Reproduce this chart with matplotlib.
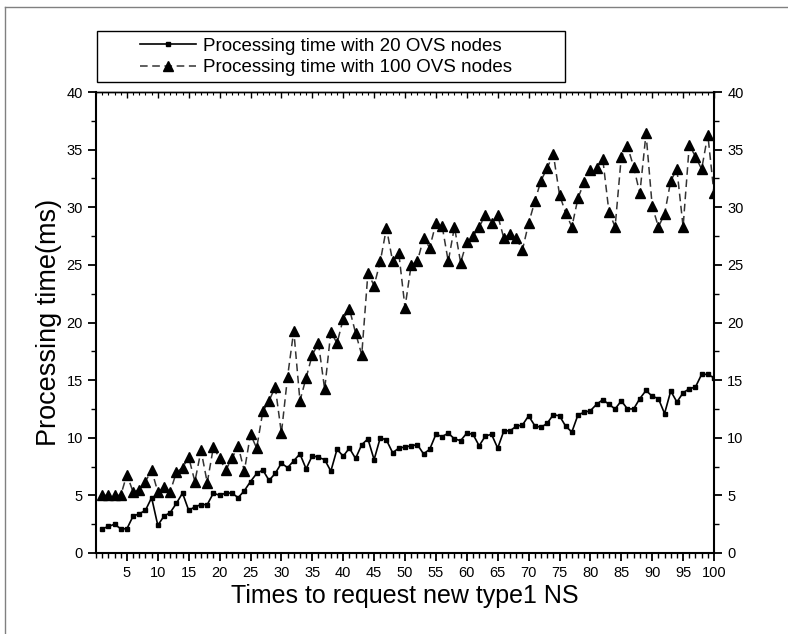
import numpy as np
import matplotlib
matplotlib.use("Agg")
import matplotlib.pyplot as plt
from matplotlib.lines import Line2D
from matplotlib.patches import Rectangle
from matplotlib.ticker import MultipleLocator

plt.rcParams['font.family'] = ['Liberation Sans', 'DejaVu Sans']

# request index 1..100
times = np.arange(1, 101)

ovs20 = [2.1, 2.3, 2.5, 2.1, 2.1, 3.2, 3.4, 3.7, 4.8, 2.4,
         3.2, 3.5, 4.3, 5.2, 3.7, 4.0, 4.2, 4.2, 5.2, 5.0,
         5.2, 5.2, 4.8, 5.4, 6.2, 6.9, 7.2, 6.3, 6.9, 7.8,
         7.4, 8.0, 8.6, 7.3, 8.45, 8.3, 8.1, 7.1, 9.0, 8.4,
         9.1, 8.2, 9.4, 9.9, 8.1, 10.0, 9.8, 8.7, 9.1, 9.2,
         9.3, 9.4, 8.6, 9.0, 10.3, 10.1, 10.4, 9.9, 9.75, 10.4,
         10.3, 9.3, 10.15, 10.3, 9.1, 10.6, 10.6, 11.0, 11.1, 11.9,
         11.05, 10.9, 11.25, 12.0, 11.9, 11.0, 10.5, 12.0, 12.2, 12.35,
         12.9, 13.3, 12.9, 12.5, 13.2, 12.5, 12.5, 13.4, 14.1, 13.6,
         13.4, 12.1, 14.05, 13.1, 13.9, 14.25, 14.4, 15.5, 15.5, 15.2]

ovs100 = [5.0, 5.0, 5.0, 5.0, 6.8, 5.3, 5.5, 6.2, 7.2, 5.3,
          5.7, 5.3, 7.0, 7.4, 8.3, 6.2, 8.9, 6.1, 9.2, 8.2,
          7.2, 8.2, 9.3, 7.1, 10.3, 9.1, 12.3, 13.2, 14.4, 10.4,
          15.3, 19.3, 13.2, 15.2, 17.2, 18.2, 14.2, 19.2, 18.2, 20.3,
          21.2, 19.1, 17.2, 24.3, 23.2, 25.3, 28.2, 25.3, 26.0, 21.3,
          25.0, 25.3, 27.3, 26.5, 28.6, 28.4, 25.3, 28.3, 25.2, 27.0,
          27.5, 28.3, 29.3, 28.6, 29.3, 27.3, 27.7, 27.3, 26.3, 28.6,
          30.5, 32.3, 33.4, 34.6, 31.1, 29.5, 28.3, 30.8, 32.2, 33.2,
          33.4, 34.2, 29.6, 28.3, 34.4, 35.3, 33.5, 31.2, 36.4, 30.1,
          28.3, 29.4, 32.3, 33.3, 28.3, 35.4, 34.4, 33.3, 36.3, 31.2]

W, H = 788, 634
fig = plt.figure(figsize=(W / 100, H / 100), dpi=100)
ax = fig.add_axes([96/W, 1 - 553/H, (714 - 96)/W, (553 - 92)/H])

ax.plot(times, ovs20, color='black', lw=1.2, marker='s', ms=3.5,
        label='Processing time with 20 OVS nodes')
ax.plot(times, ovs100, color='#333333', lw=1.1, ls=(0, (5, 3)), marker='^', ms=7.5,
        mfc='black', mec='black', label='Processing time with 100 OVS nodes')

ax.set_xlim(0, 100)
ax.set_ylim(0, 40)
ax.set_xticks(np.arange(5, 101, 5))
ax.xaxis.set_minor_locator(MultipleLocator(1))
ax.set_yticks(np.arange(0, 41, 5))
ax.yaxis.set_minor_locator(MultipleLocator(2.5))

ax.tick_params(axis='x', which='major', direction='out', length=6, width=1.3,
               labelsize=10.5, labeltop=False)
ax.tick_params(axis='x', which='minor', direction='out', length=3.5, width=1)
ax.tick_params(axis='y', which='major', direction='out', length=6, width=1.3,
               labelsize=10.5, right=True, labelright=True)
ax.tick_params(axis='y', which='minor', direction='out', length=3.5, width=1, right=True)
# top spine carries small inward ticks
top = ax.secondary_xaxis('top')
top.set_xticks(np.arange(5, 101, 5))
top.xaxis.set_minor_locator(MultipleLocator(1))
top.tick_params(which='major', direction='in', length=4, width=1, labeltop=False)
top.tick_params(which='minor', direction='in', length=2.5, width=0.8)
top.spines['top'].set_linewidth(1.0)

for s in ['left', 'bottom', 'right']:
    ax.spines[s].set_linewidth(1.5)
ax.spines['top'].set_linewidth(1.0)

ax.set_xlabel('Times to request new type1 NS', fontsize=18, labelpad=3)
ax.set_ylabel('Processing time(ms)', fontsize=19.5, labelpad=3)

# legend box drawn separately so the handles sit indented like the original
fig.add_artist(Rectangle((97/W, 1 - 82/H), (565 - 97)/W, (82 - 31)/H,
                         transform=fig.transFigure, fill=False,
                         edgecolor='black', lw=1.0))
fig.legend(loc='center left', bbox_to_anchor=(140/W, 1 - 57/H), fontsize=13.5,
           frameon=False, handlelength=3.0, handletextpad=0.35,
           borderpad=0, labelspacing=0.25, borderaxespad=0)

# outer frame of the picture
fig.add_artist(Line2D([5/W, 5/W], [0, 1 - 7/H], color='#808080', lw=1))
fig.add_artist(Line2D([5/W, 1], [1 - 7/H, 1 - 7/H], color='#808080', lw=1))

fig.savefig('out.png', dpi=100)
